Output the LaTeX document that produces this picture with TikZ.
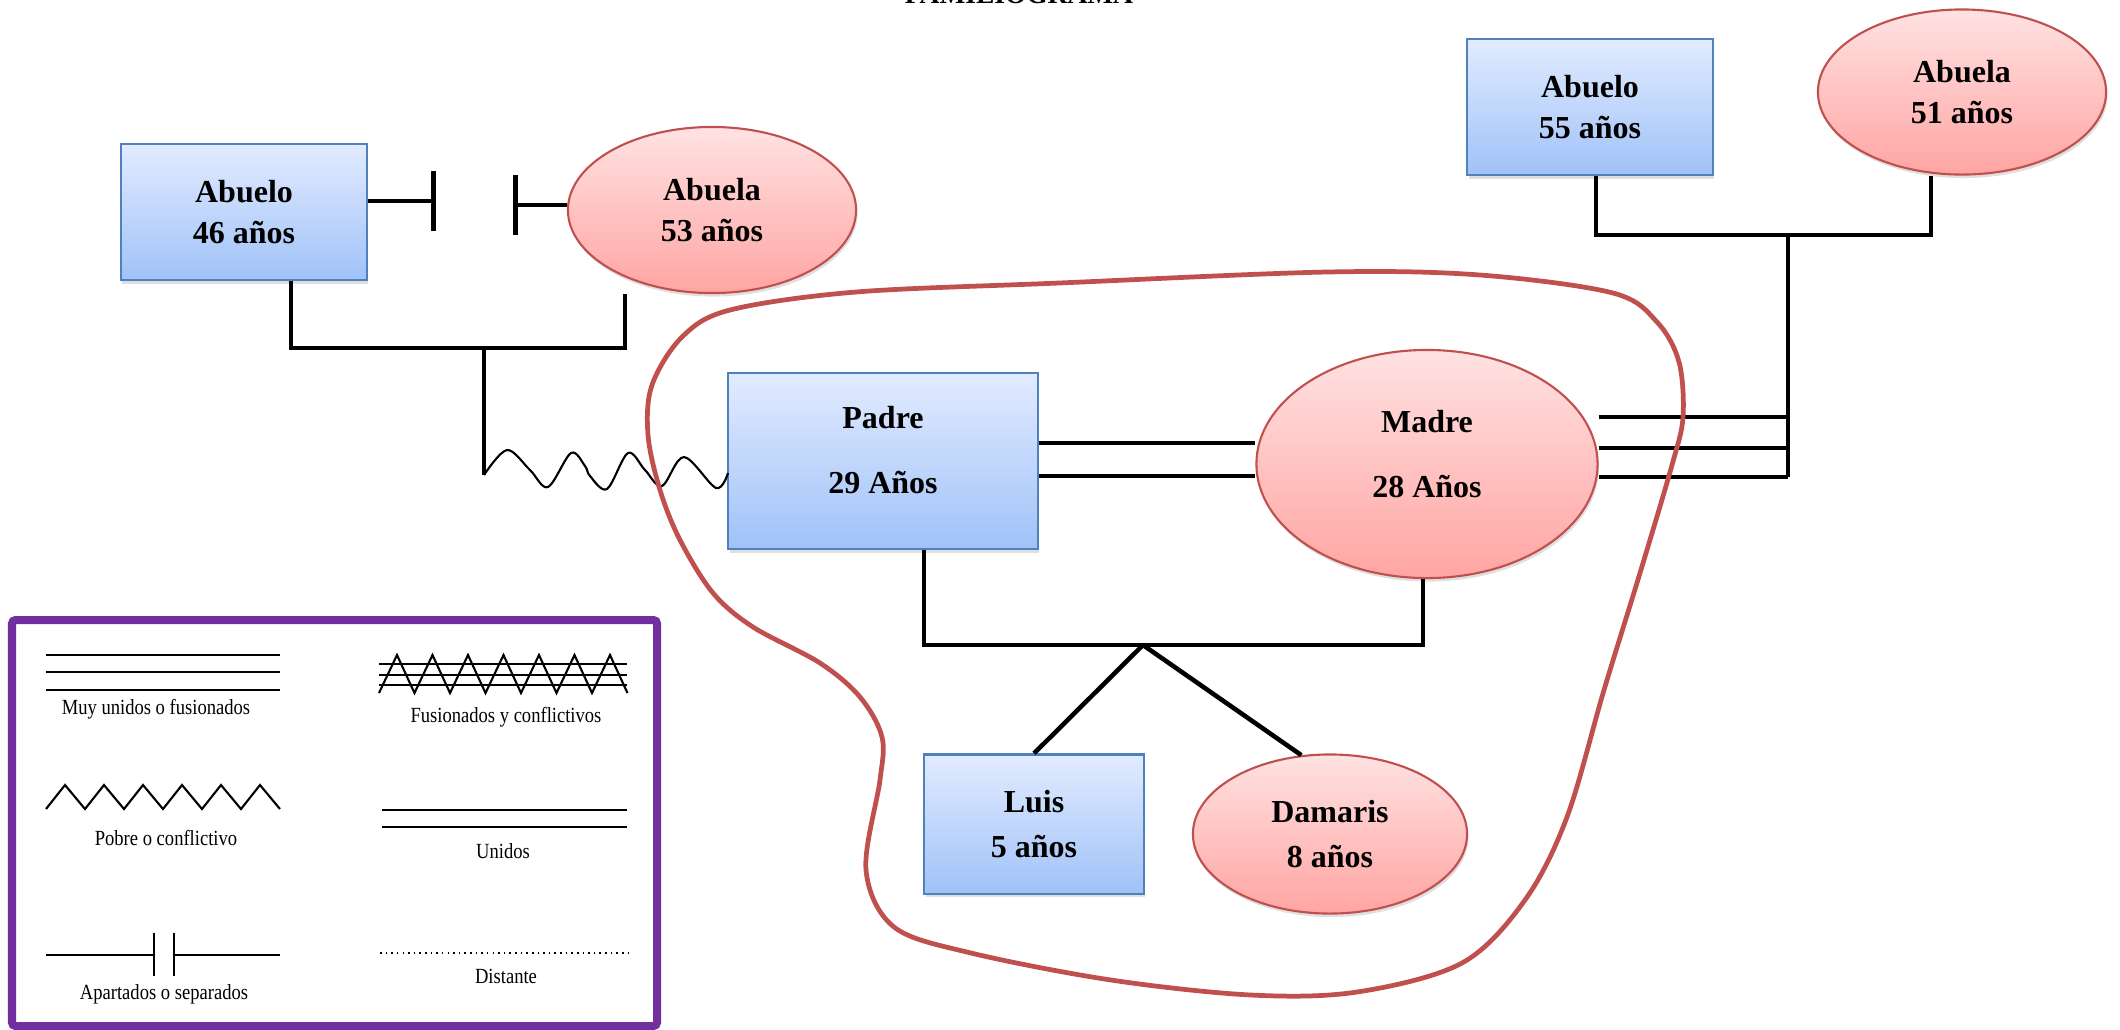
\documentclass[tikz,border=0pt]{standalone}
\usepackage{fontspec}
\setmainfont{Liberation Serif}
\usetikzlibrary{shapes.geometric,shadows,arrows.meta}

\definecolor{bordeazul}{RGB}{79,129,189}
\definecolor{azularriba}{RGB}{226,235,255}
\definecolor{azulabajo}{RGB}{160,194,248}
\definecolor{borderojo}{RGB}{192,80,77}
\definecolor{rosaarriba}{RGB}{255,226,226}
\definecolor{rosaabajo}{RGB}{255,165,163}
\definecolor{rojolazo}{RGB}{192,80,77}
\definecolor{morado}{RGB}{112,48,160}

\begin{document}
\begin{tikzpicture}
[
x=0.01cm, y=-0.01cm,
varon/.style={rectangle, draw=bordeazul, line width=0.6pt, top color=azularriba, bottom color=azulabajo, inner sep=0pt, align=center, font=\bfseries\fontsize{9.1}{11.7}\selectfont, drop shadow={shadow xshift=0.4pt, shadow yshift=-1pt, opacity=0.25}},
mujer/.style={ellipse, draw=borderojo, line width=0.6pt, top color=rosaarriba, bottom color=rosaabajo, inner sep=0pt, align=center, font=\bfseries\fontsize{9.1}{11.7}\selectfont, drop shadow={shadow xshift=0.4pt, shadow yshift=-1pt, opacity=0.25}},
lazo/.style={line width=1.3pt},
ondas/.style={line width=0.6pt},
familia/.style={draw=rojolazo, line width=1.35pt},
trazo/.style={line width=0.6pt},
leyenda/.style={font=\fontsize{6.14}{7}\selectfont, anchor=base},
titulo/.style={font=\bfseries\fontsize{7.8}{9}\selectfont, anchor=base}
]
\useasboundingbox (0,0) rectangle (2120,1029);

%Nodes
\node[titulo] (titulo) at (1019,3) {FAMILIOGRAMA};
\node[varon, minimum width=2.46cm, minimum height=1.36cm] (abueloP) at (244,212) {Abuelo\\46 años};
\node[mujer, minimum width=2.88cm, minimum height=1.66cm] (abuelaP) at (712,210) {Abuela\\53 años};
\node[varon, minimum width=2.45cm, minimum height=1.36cm] (abueloM) at (1590,107) {Abuelo\\55 años};
\node[mujer, minimum width=2.88cm, minimum height=1.65cm] (abuelaM) at (1962,92) {Abuela\\51 años};
\node[varon, minimum width=3.09cm, minimum height=1.76cm, text depth=0.22cm] (padre) at (883,461) {Padre\\[6.8pt]29 Años};
\node[mujer, minimum width=3.41cm, minimum height=2.28cm, text depth=0.21cm] (madre) at (1427,464) {Madre\\[6.8pt]28 Años};
\node[varon, minimum width=2.19cm, minimum height=1.39cm, font=\bfseries\fontsize{9.1}{12.8}\selectfont] (luis) at (1034,824) {Luis\\5 años};
\node[mujer, minimum width=2.74cm, minimum height=1.59cm, font=\bfseries\fontsize{9.1}{12.8}\selectfont] (damaris) at (1330,834) {Damaris\\8 años};

%Coordinates
\coordinate (sepA) at (436,201);
\coordinate (sepB) at (513,205);
\coordinate (hijoPa) at (291,348);
\coordinate (hijoPb) at (625,348);
\coordinate (hijoP) at (484,348);
\coordinate (ondaA) at (484,475);
\coordinate (ondaB) at (728,473);
\coordinate (hijoMa) at (1596,235);
\coordinate (hijoMb) at (1931,235);
\coordinate (hijoM) at (1788,235);
\coordinate (fusA) at (1788,417);
\coordinate (fusB) at (1788,448);
\coordinate (fusC) at (1788,477);
\coordinate (unidoA) at (1150,443);
\coordinate (unidoB) at (1150,476);
\coordinate (hijosA) at (924,645);
\coordinate (hijosB) at (1423,645);
\coordinate (hijos) at (1143,645);

%Paternal grandparents
\draw[lazo, -{Bar[width=0.59cm]}] (abueloP.east |- sepA) -- (sepA);
\draw[lazo, -{Bar[width=0.59cm]}] (abuelaP.west |- sepB) -- (sepB);
\draw[lazo] (hijoPa |- abueloP.south) -- (hijoPa) -- (hijoPb) -- (hijoPb |- abuelaP.south);
\draw[lazo] (hijoP) -- (ondaA);
\draw[ondas] plot[smooth, tension=0.55] coordinates {(ondaA) (507,450) (530,470) (548,487) (571,453) (585,466) (590,476) (607,489) (628,453) (645,470) (662,486) (684,457) (716,488) (ondaB)};

%Maternal grandparents
\draw[lazo] (hijoMa |- abueloM.south) -- (hijoMa) -- (hijoMb) -- (hijoMb |- abuelaM.south);
\draw[lazo] (hijoM) -- (fusC);
\draw[lazo] (madre.east |- fusA) -- (fusA);
\draw[lazo] (madre.east |- fusB) -- (fusB);
\draw[lazo] (madre.east |- fusC) -- (fusC);

%Parents and children
\draw[lazo] (padre.east |- unidoA) -- (madre.west |- unidoA);
\draw[lazo] (padre.east |- unidoB) -- (madre.west |- unidoB);
\draw[lazo] (hijosA |- padre.south) -- (hijosA) -- (hijosB) -- (hijosB |- madre.south);
\draw[lazo] (hijos) -- (luis.north);
\draw[lazo] (hijos) -- (damaris.110);

%Family outline
\draw[familia] plot[smooth cycle, tension=0.55] coordinates {(730,310) (856,292) (1059,283) (1327,272) (1480,275) (1613,293) (1657,322) (1679,362) (1683,417) (1672,465) (1640,573) (1604,690) (1567,817) (1525,900) (1462,963) (1357,992) (1251,995) (1111,980) (971,953) (894,927) (866,870) (880,780) (882,737) (860,697) (820,663) (753,627) (713,593) (680,540) (660,490) (648,435) (652,385) (682,337)};

%Legend
\draw[morado, line width=0.08cm, rounded corners=1pt] (12,620) rectangle (657,1026);
\draw[trazo] (46,655) -- (280,655) (46,672) -- (280,672) (46,690) -- (280,690);
\draw[trazo] (379,664) -- (627,664) (379,675) -- (627,675) (379,685) -- (627,685);
\draw[trazo] (379,693) \foreach \k in {0,...,6} { -- ({397+35.5*\k},655) -- ({414.5+35.5*\k},693)};
\draw[trazo] (46,809) \foreach \k in {0,...,5} { -- ({65+39*\k},785) -- ({85+39*\k},809)};
\draw[trazo] (382,810) -- (627,810) (382,827) -- (627,827);
\draw[trazo] (46,955) -- (154,955) (154,933) -- (154,976) (174,933) -- (174,976) (174,955) -- (280,955);
\draw[trazo, dash pattern=on 0.45pt off 1.15pt] (380,953) -- (629,953);
\node[leyenda] (leyMuy) at (156,714) {\scalebox{0.86}[1]{Muy unidos o fusionados}};
\node[leyenda] (leyFus) at (506,722) {\scalebox{0.86}[1]{Fusionados y conflictivos}};
\node[leyenda] (leyPob) at (166,845) {\scalebox{0.86}[1]{Pobre o conflictivo}};
\node[leyenda] (leyUni) at (503,858) {\scalebox{0.86}[1]{Unidos}};
\node[leyenda] (leyApa) at (164,999) {\scalebox{0.86}[1]{Apartados o separados}};
\node[leyenda] (leyDis) at (506,983) {\scalebox{0.86}[1]{Distante}};

\end{tikzpicture}
\end{document}
